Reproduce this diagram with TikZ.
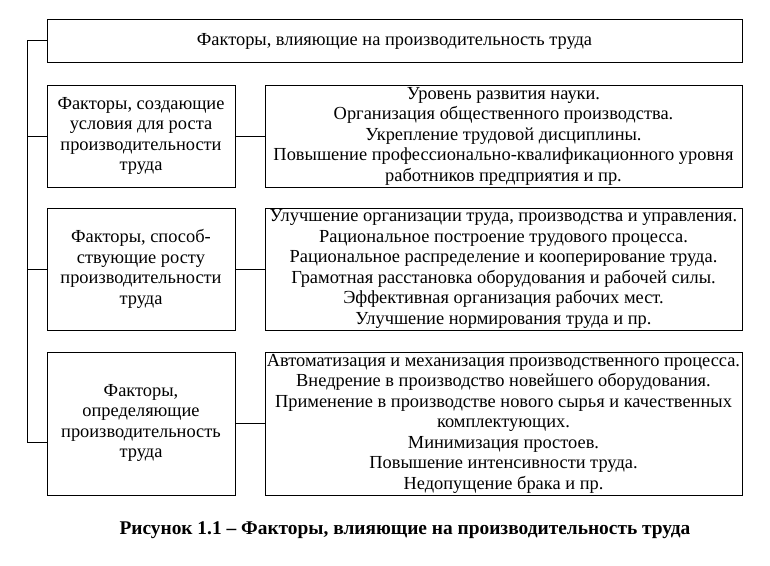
\documentclass[tikz,border=0pt]{standalone}
\usepackage{fontspec}
\setmainfont{Liberation Serif}
\begin{document}
\begin{tikzpicture}[x=1pt,y=-1pt,
  box/.style={draw,line width=0.8pt,inner sep=0pt},
  txt/.style={align=center,font=\fontsize{18.4}{20.5}\selectfont},
  ln/.style={line width=0.8pt}]
\useasboundingbox (0,0) rectangle (770,565);
\draw[box] (47,19) rectangle (742,62);
\node[txt] (top) at (394.5,41) {Факторы, влияющие на производительность труда};
\coordinate (topL) at (47,40.5);
\draw[box] (47,85) rectangle (235,187); \node[txt] (l1) at (141,136) {Факторы, создающие\\условия для роста\\производительности\\труда};
\draw[box] (47,208) rectangle (235,330); \node[txt] (l2) at (141,269) {Факторы, способ-\\ствующие росту\\производительности\\труда};
\draw[box] (47,352) rectangle (235,495); \node[txt] (l3) at (141,423) {Факторы,\\определяющие\\производительность\\труда};
\draw[box] (265,85) rectangle (742,187); \node[txt] (r1) at (503.5,136) {Уровень развития науки.\\Организация общественного производства.\\Укрепление трудовой дисциплины.\\Повышение профессионально-квалификационного уровня\\работников предприятия и пр.};
\draw[box] (265,208) rectangle (742,330); \node[txt] (r2) at (503.5,269) {Улучшение организации труда, производства и управления.\\Рациональное построение трудового процесса.\\Рациональное распределение и кооперирование труда.\\Грамотная расстановка оборудования и рабочей силы.\\Эффективная организация рабочих мест.\\Улучшение нормирования труда и пр.};
\draw[box] (265,352) rectangle (742,495); \node[txt] (r3) at (503.5,423.5) {Автоматизация и механизация производственного процесса.\\Внедрение в производство новейшего оборудования.\\Применение в производстве нового сырья и качественных\\комплектующих.\\Минимизация простоев.\\Повышение интенсивности труда.\\Недопущение брака и пр.};
\coordinate (v0) at (27,40.5);
\coordinate (v1) at (27,136);
\coordinate (v2) at (27,269);
\coordinate (v3) at (27,442);
\draw[ln] (topL) -- (v0) -- (v3) -- (47,442);
\draw[ln] (v1) -- (47,136);
\draw[ln] (v2) -- (47,269);
\draw[ln] (235,136) -- (265,136);
\draw[ln] (235,269) -- (265,269);
\draw[ln] (235,423) -- (265,423);
\node[font=\fontsize{19.4}{22}\selectfont\bfseries] (cap) at (405,530) {Рисунок 1.1 – Факторы, влияющие на производительность труда};
\end{tikzpicture}
\end{document}
